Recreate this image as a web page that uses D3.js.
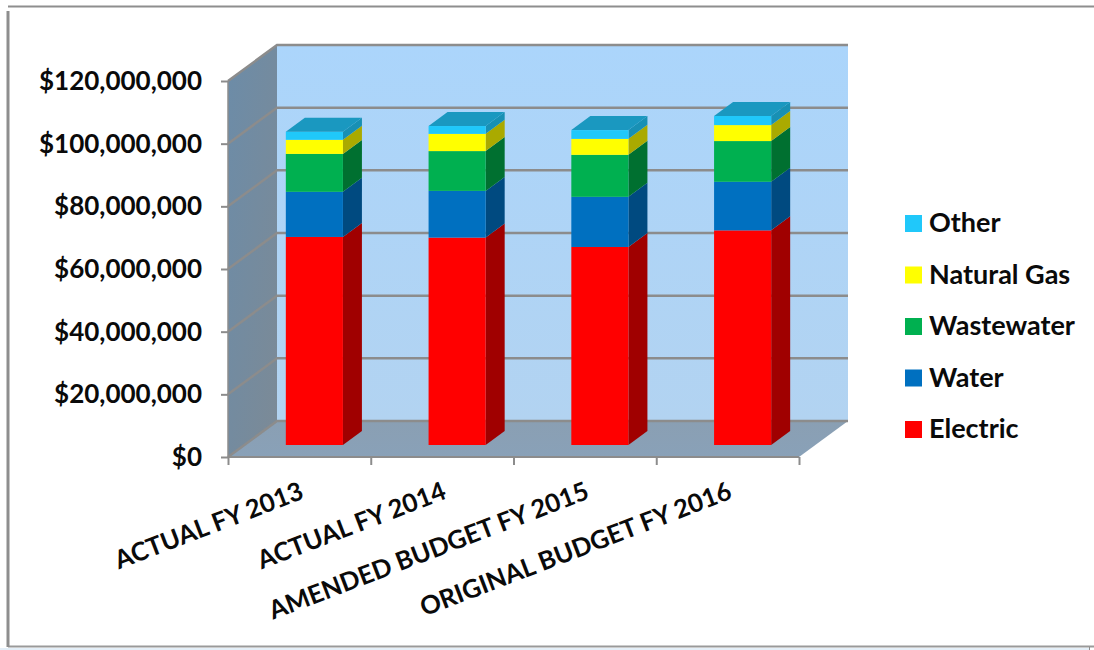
<!DOCTYPE html>
<html>
<head>
<style>
html, body { margin: 0; padding: 0; background: #fff; overflow: hidden; }
text { font-family: Lato, "Open Sans", sans-serif; font-weight: 700; fill: #0a0a0a; }
.gridLine { stroke: #8c8c8c; stroke-width: 2.5; fill: none; }
.axisLine { stroke: #8c8c8c; stroke-width: 2; }
</style>
</head>
<body>
<div id="vis"></div>
<script src="https://d3js.org/d3.v7.min.js"></script>
<script>
// data (millions of dollars)
var categories = ["ACTUAL FY 2013", "ACTUAL FY 2014", "AMENDED BUDGET FY 2015", "ORIGINAL BUDGET FY 2016"];
var seriesNames = ["Electric", "Water", "Wastewater", "Natural Gas", "Other"];
var electric = [66.4, 66.2, 63.2, 68.5];
var water = [14.4, 14.9, 16.0, 15.5];
var wastewater = [12.1, 12.7, 13.4, 13.0];
var naturalGas = [4.5, 5.5, 5.1, 5.1];
var other = [2.6, 2.5, 2.8, 2.9];
var yTicks = [0, 20, 40, 60, 80, 100, 120];

var frontColors = ["#ff0000", "#0070c0", "#00b050", "#ffff00", "#20c8fa"];
var sideColors = ["#a00000", "#004a80", "#007030", "#aaaa00", "#1890b4"];
var topColor = "#1a98c0";

var width = 1094, height = 650;
var plotLeft = 228, plotRight = 799, plotBottom = 457, plotTop = 81;
var wallDx = 49, wallDy = -36;   // depth of the whole 3d box
var barDx = 19, barDy = -14;     // depth of one bar
var barShiftX = 15, barShiftY = -12;

var svg = d3.select("#vis").append("svg")
	.attr("width", width)
	.attr("height", height)
	.style("display", "block");

var x = d3.scaleBand().domain(categories).range([plotLeft, plotRight]).paddingInner(0.6).paddingOuter(0.3);
var y = d3.scaleLinear().domain([0, 120]).range([plotBottom, plotTop]);
var edges = d3.scaleLinear().domain([0, categories.length]).range([plotLeft, plotRight]);

// gradients for the walls
var defs = svg.append("defs");
function gradient(id, x2, y2, stops) {
	var g = defs.append("linearGradient").attr("id", id)
		.attr("x1", 0).attr("y1", 0).attr("x2", x2).attr("y2", y2);
	stops.forEach(function(s, i) {
		g.append("stop").attr("offset", i / (stops.length - 1)).attr("stop-color", s);
	});
}
gradient("backWall", 0, 1, ["#abd5fb", "#b2d3f1"]);
gradient("sideWall", 1, 1, ["#6c8ca8", "#7c8a96"]);
gradient("floorWall", 0, 1, ["#8a9fb3", "#89a1b8"]);

// frame of the pasted picture: top, left and bottom only
svg.append("rect").attr("x", 0).attr("y", 648).attr("width", 1089).attr("height", 2).attr("fill", "#e4eff8");
svg.append("line").attr("x1", 8).attr("x2", width).attr("y1", 6.5).attr("y2", 6.5)
	.attr("stroke", "#8e8e8e").attr("stroke-width", 2);
svg.append("line").attr("x1", 8).attr("x2", width).attr("y1", 646.5).attr("y2", 646.5)
	.attr("stroke", "#9a9a9a").attr("stroke-width", 2);
svg.append("line").attr("x1", 8).attr("x2", 8).attr("y1", 11).attr("y2", 647)
	.attr("stroke", "#8e8e8e").attr("stroke-width", 3);
svg.append("line").attr("x1", 1089.5).attr("x2", 1089.5).attr("y1", 647).attr("y2", 650)
	.attr("stroke", "#8e8e8e").attr("stroke-width", 1);

function pts(a) { return a.map(function(p) { return p.join(","); }).join(" "); }

// walls
svg.append("polygon")
	.attr("points", pts([[plotLeft, y(120)], [plotLeft + wallDx, y(120) + wallDy], [plotLeft + wallDx, plotBottom + wallDy], [plotLeft, plotBottom]]))
	.attr("fill", "url(#sideWall)");
svg.append("rect")
	.attr("x", plotLeft + wallDx).attr("y", y(120) + wallDy)
	.attr("width", plotRight - plotLeft).attr("height", plotBottom - y(120))
	.attr("fill", "url(#backWall)");
svg.append("polygon")
	.attr("points", pts([[plotLeft, plotBottom], [plotRight, plotBottom], [plotRight + wallDx, plotBottom + wallDy], [plotLeft + wallDx, plotBottom + wallDy]]))
	.attr("fill", "url(#floorWall)");

// gridlines along side wall and back wall
svg.selectAll(".gridLine")
	.data(yTicks)
	.enter().append("polyline")
	.attr("class", "gridLine")
	.attr("points", function(d) {
		return pts([[plotLeft, y(d)], [plotLeft + wallDx, y(d) + wallDy], [plotRight + wallDx, y(d) + wallDy]]);
	});
svg.append("line").attr("class", "gridLine")
	.attr("x1", plotLeft).attr("x2", plotLeft).attr("y1", y(120)).attr("y2", plotBottom)
	.style("stroke-width", 1.5);

// axes
var yAxis = svg.append("g")
	.attr("transform", "translate(" + plotLeft + ",0)")
	.call(d3.axisLeft(y).tickValues(yTicks).tickSize(7).tickPadding(19)
		.tickFormat(function(d) { return d === 0 ? "$0" : "$" + d3.format(",")(d * 1000000); }));
yAxis.select(".domain").remove();
yAxis.selectAll("line").attr("stroke", "#8c8c8c").attr("stroke-width", 2);
yAxis.selectAll("text").style("font-size", "26px").attr("dy", "0.33em");

var xAxis = svg.append("g")
	.attr("transform", "translate(0," + plotBottom + ")")
	.call(d3.axisBottom(edges).ticks(categories.length).tickSize(8).tickFormat(""));
xAxis.select(".domain").remove();
xAxis.selectAll("line").attr("stroke", "#8c8c8c").attr("stroke-width", 2);
svg.append("line").attr("class", "axisLine")
	.attr("x1", plotLeft).attr("x2", plotRight).attr("y1", plotBottom).attr("y2", plotBottom);

// rotated category labels
svg.selectAll(".catLabel")
	.data(categories)
	.enter().append("text")
	.attr("class", "catLabel")
	.attr("text-anchor", "end")
	.style("font-size", "25.5px")
	.attr("transform", function(d, i) {
		return "translate(" + (edges(i) + 77) + "," + (plotBottom + 41) + ") rotate(-21)";
	})
	.text(function(d) { return d; });

// stacked 3d bars
var seriesValues = [electric, water, wastewater, naturalGas, other];
var rows = categories.map(function(c, i) {
	var row = { category: c };
	seriesNames.forEach(function(s, k) { row[s] = seriesValues[k][i]; });
	return row;
});
var stacked = d3.stack().keys(seriesNames)(rows);

var barW = x.bandwidth();
stacked.forEach(function(layer, k) {
	var g = svg.append("g").attr("class", "layer");
	layer.forEach(function(d, i) {
		var x0 = x(categories[i]) + barShiftX, x1 = x0 + barW;
		var yLo = y(d[0]) + barShiftY, yHi = y(d[1]) + barShiftY;
		g.append("polygon")
			.attr("points", pts([[x1, yLo], [x1 + barDx, yLo + barDy], [x1 + barDx, yHi + barDy], [x1, yHi]]))
			.attr("fill", sideColors[k]);
		g.append("rect")
			.attr("x", x0).attr("y", yHi)
			.attr("width", barW).attr("height", yLo - yHi)
			.attr("fill", frontColors[k]);
		if (k === seriesNames.length - 1) {
			g.append("polygon")
				.attr("points", pts([[x0, yHi], [x1, yHi], [x1 + barDx, yHi + barDy], [x0 + barDx, yHi + barDy]]))
				.attr("fill", topColor);
		}
	});
});

// legend, top entry is the last series
var legendY = d3.scalePoint().domain(seriesNames.slice().reverse()).range([223, 429]);
var legend = svg.selectAll(".legendItem")
	.data(seriesNames.slice().reverse())
	.enter().append("g")
	.attr("class", "legendItem")
	.attr("transform", function(d) { return "translate(905," + legendY(d) + ")"; });
legend.append("rect")
	.attr("y", -8).attr("width", 17).attr("height", 17)
	.attr("fill", function(d) { return frontColors[seriesNames.indexOf(d)]; });
legend.append("text")
	.attr("x", 24).attr("dy", "0.35em")
	.style("font-size", "27px")
	.text(function(d) { return d; });
</script>
</body>
</html>
